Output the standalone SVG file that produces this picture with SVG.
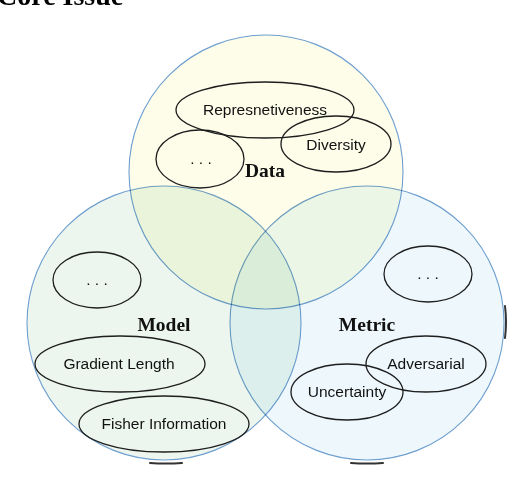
<svg xmlns="http://www.w3.org/2000/svg" width="508" height="496" viewBox="0 0 508 496">
<style>
.c{stroke:#6e9fcf;stroke-width:1.1;mix-blend-mode:multiply}
.e{fill:none;stroke:#1e1e1e;stroke-width:1.3}
.t{font-family:"Liberation Sans",Arial,sans-serif;font-size:15.5px;fill:#111;text-anchor:middle}
.h{font-family:"Liberation Serif","Times New Roman",serif;font-size:19.5px;font-weight:bold;fill:#111;text-anchor:middle}
.s{fill:none;stroke:#333;stroke-width:2;stroke-linecap:round}
</style>
<rect width="508" height="496" fill="#fff"/>
<text x="-3" y="5" font-family="Liberation Serif,'Times New Roman',serif" font-size="28" font-weight="bold" fill="#000">Core Issue</text>
<g id="shadows">
<path class="s" d="M150 463 Q166 464 182 463"/>
<path class="s" d="M351 463 Q367 464 383 463"/>
<path class="s" d="M505 306 Q507 322 505 338"/>
</g>
<g id="circles">
<circle id="data-circle" class="c" cx="266" cy="172" r="137" fill="#fdfdea"/>
<circle id="model-circle" class="c" cx="164" cy="323" r="137" fill="#ecf6ef"/>
<circle id="metric-circle" class="c" cx="367" cy="323" r="137" fill="#eef8fc"/>
</g>
<g id="data">
<text class="h" x="265" y="177">Data</text>
<g id="represnetiveness"><ellipse class="e" cx="265" cy="110" rx="89" ry="28"/><text class="t" x="265" y="115">Represnetiveness</text></g>
<g id="diversity"><ellipse class="e" cx="336" cy="144" rx="55" ry="28"/><text class="t" x="336" y="150">Diversity</text></g>
<g id="data-more"><ellipse class="e" cx="200" cy="159" rx="44" ry="29"/><text class="t" x="201" y="164">. . .</text></g>
</g>
<g id="model">
<text class="h" x="164" y="331">Model</text>
<g id="model-more"><ellipse class="e" cx="97" cy="280" rx="44" ry="28"/><text class="t" x="97" y="285">. . .</text></g>
<g id="gradient-length"><ellipse class="e" cx="120" cy="364" rx="85" ry="28"/><text class="t" x="119" y="369">Gradient Length</text></g>
<g id="fisher-information"><ellipse class="e" cx="164" cy="424" rx="85" ry="28"/><text class="t" x="164" y="429">Fisher Information</text></g>
</g>
<g id="metric">
<text class="h" x="367" y="331">Metric</text>
<g id="metric-more"><ellipse class="e" cx="428" cy="274" rx="44" ry="28"/><text class="t" x="428" y="279">. . .</text></g>
<g id="adversarial"><ellipse class="e" cx="426" cy="364" rx="60" ry="28"/><text class="t" x="426" y="369">Adversarial</text></g>
<g id="uncertainty"><ellipse class="e" cx="347" cy="392" rx="56" ry="28"/><text class="t" x="347" y="397">Uncertainty</text></g>
</g>
</svg>
